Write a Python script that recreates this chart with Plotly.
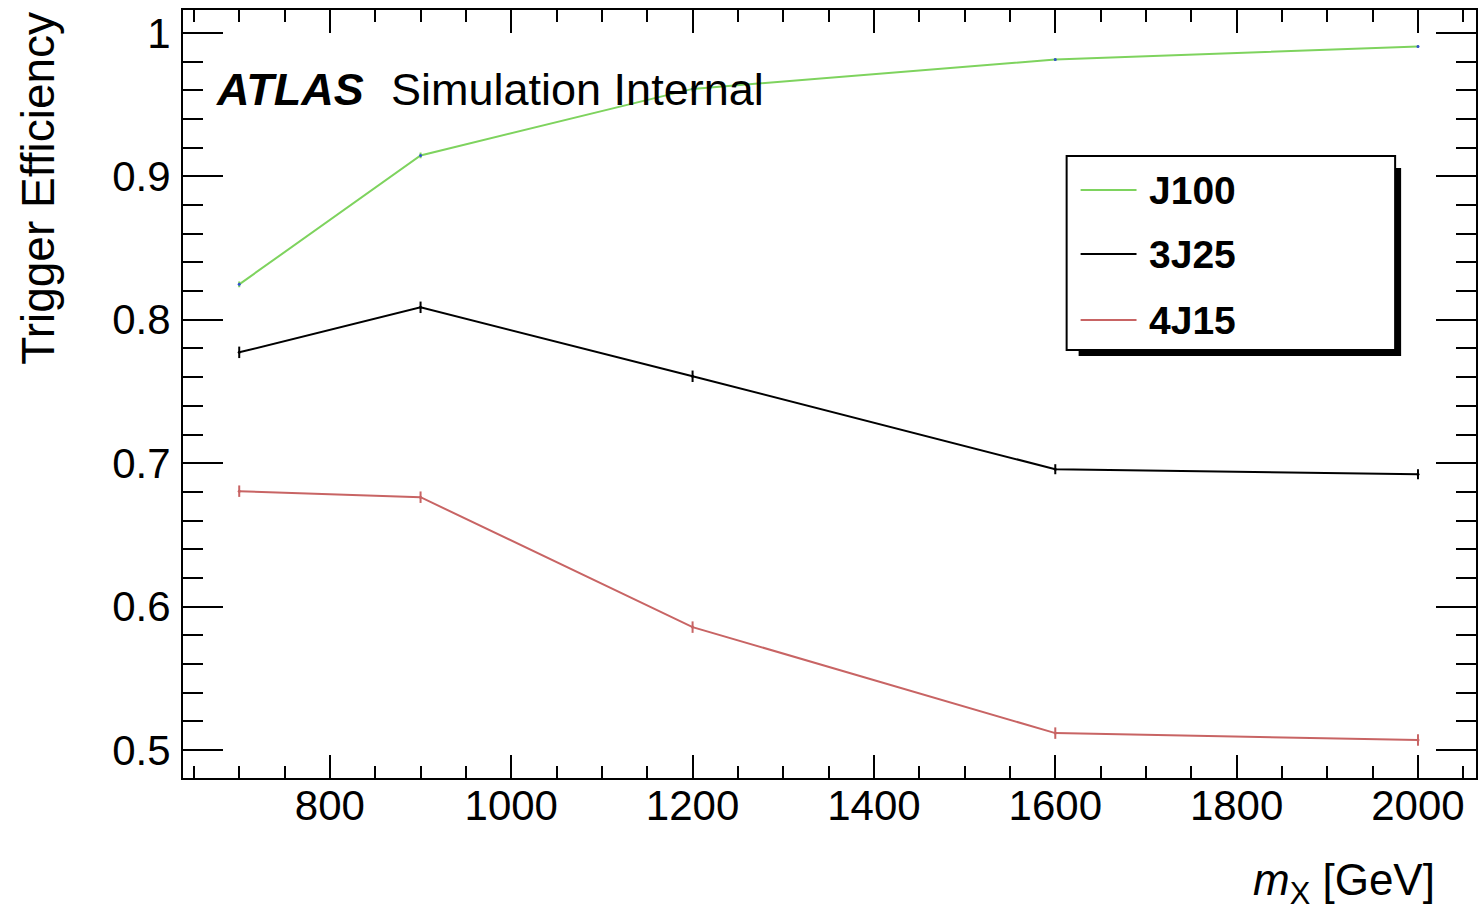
import plotly.graph_objects as go

# ---- data ----
mass = [700, 900, 1200, 1600, 2000]
eff_J100 = [0.8247, 0.9146, 0.961, 0.9815, 0.9906]
eff_3J25 = [0.7773, 0.8087, 0.7606, 0.6958, 0.6923]
eff_4J15 = [0.6805, 0.6763, 0.5857, 0.5118, 0.5070]
err_J100 = [0.002, 0.002, 0.002, 0.001, 0.001]
err_3J25 = [0.004, 0.004, 0.004, 0.0035, 0.0035]
err_4J15 = [0.004, 0.004, 0.004, 0.004, 0.004]
labels = ["J100", "3J25", "4J15"]

colors = ["#7ed35e", "#000000", "#c86464"]
FONT = "Liberation Sans, Arial, Helvetica, sans-serif"

W, H = 1479, 911
L, R, T, B = 183, 1478, 10, 778


def px(x):
    return (x - L) / (R - L)


def py(y):
    return (B - y) / (B - T)


fig = go.Figure()
series = [(eff_J100, err_J100), (eff_3J25, err_3J25), (eff_4J15, err_4J15)]
for (vals, errs), name, col in zip(series, labels, colors):
    fig.add_trace(go.Scatter(
        x=mass, y=vals, name=name, mode="lines+markers",
        line=dict(color=col, width=2),
        marker=dict(size=3, color="#3050d0" if name == "J100" else col),
        error_y=dict(type="data", array=errs, visible=True, color=col,
                     thickness=2, width=0),
        showlegend=False,
    ))

axis_common = dict(
    showline=True, linecolor="black", linewidth=2, mirror="allticks",
    ticks="inside", tickcolor="black", tickwidth=2,
    showgrid=False, zeroline=False,
    tickfont=dict(family=FONT, size=42, color="black"),
)

fig.update_xaxes(
    range=[638, 2064], dtick=200, tick0=0, ticklen=23,
    minor=dict(ticks="inside", ticklen=12, dtick=50, tick0=0,
               tickcolor="black", tickwidth=2, showgrid=False),
    ticklabelstandoff=-10,
    **axis_common,
)
fig.update_yaxes(
    range=[0.4805, 1.016], dtick=0.1, tick0=0.5, ticklen=40,
    minor=dict(ticks="inside", ticklen=20, dtick=0.02, tick0=0.5,
               tickcolor="black", tickwidth=2, showgrid=False),
    ticklabelstandoff=2,
    **axis_common,
)

annotations = [
    dict(text="Trigger Efficiency", xref="paper", yref="paper",
         x=px(37), y=1.0, xanchor="center", yanchor="top", textangle=-90,
         showarrow=False, font=dict(family=FONT, size=46, color="black")),
    dict(text="<i>m</i><sub>X</sub> [GeV]", xref="paper", yref="paper",
         x=px(1439), y=py(883), xanchor="right", yanchor="middle",
         showarrow=False, font=dict(family=FONT, size=44, color="black")),
    dict(text="<b><i>ATLAS</i></b>", xref="paper", yref="paper",
         x=px(214), y=py(90), xanchor="left", yanchor="middle",
         showarrow=False, font=dict(family=FONT, size=45, color="black")),
    dict(text="Simulation Internal", xref="paper", yref="paper",
         x=px(389), y=py(90), xanchor="left", yanchor="middle",
         showarrow=False, font=dict(family=FONT, size=45, color="black")),
]

shapes = [
    dict(type="rect", xref="paper", yref="paper", layer="above",
         x0=px(1080), x1=px(1403), y0=py(356), y1=py(168),
         fillcolor="black", line=dict(width=0)),
    dict(type="rect", xref="paper", yref="paper", layer="above",
         x0=px(1068), x1=px(1397), y0=py(350), y1=py(156),
         fillcolor="white", line=dict(color="black", width=2)),
]

legend_y = [190, 254, 320]
for name, col, ly in zip(labels, colors, legend_y):
    shapes.append(dict(type="line", xref="paper", yref="paper", layer="above",
                       x0=px(1082), x1=px(1138), y0=py(ly), y1=py(ly),
                       line=dict(color=col, width=2)))
    annotations.append(dict(text="<b>%s</b>" % name, xref="paper", yref="paper",
                            x=px(1148), y=py(ly), xanchor="left", yanchor="middle",
                            showarrow=False,
                            font=dict(family=FONT, size=39, color="black")))

fig.update_layout(
    width=W, height=H,
    margin=dict(l=L, r=W - R, t=T, b=H - B, pad=0),
    paper_bgcolor="white", plot_bgcolor="white",
    annotations=annotations, shapes=shapes,
    showlegend=False,
)

fig.write_html(
    "out.html",
    config={"displayModeBar": False},
    post_script="document.body.style.margin='0px';document.body.style.overflow='hidden';",
)
